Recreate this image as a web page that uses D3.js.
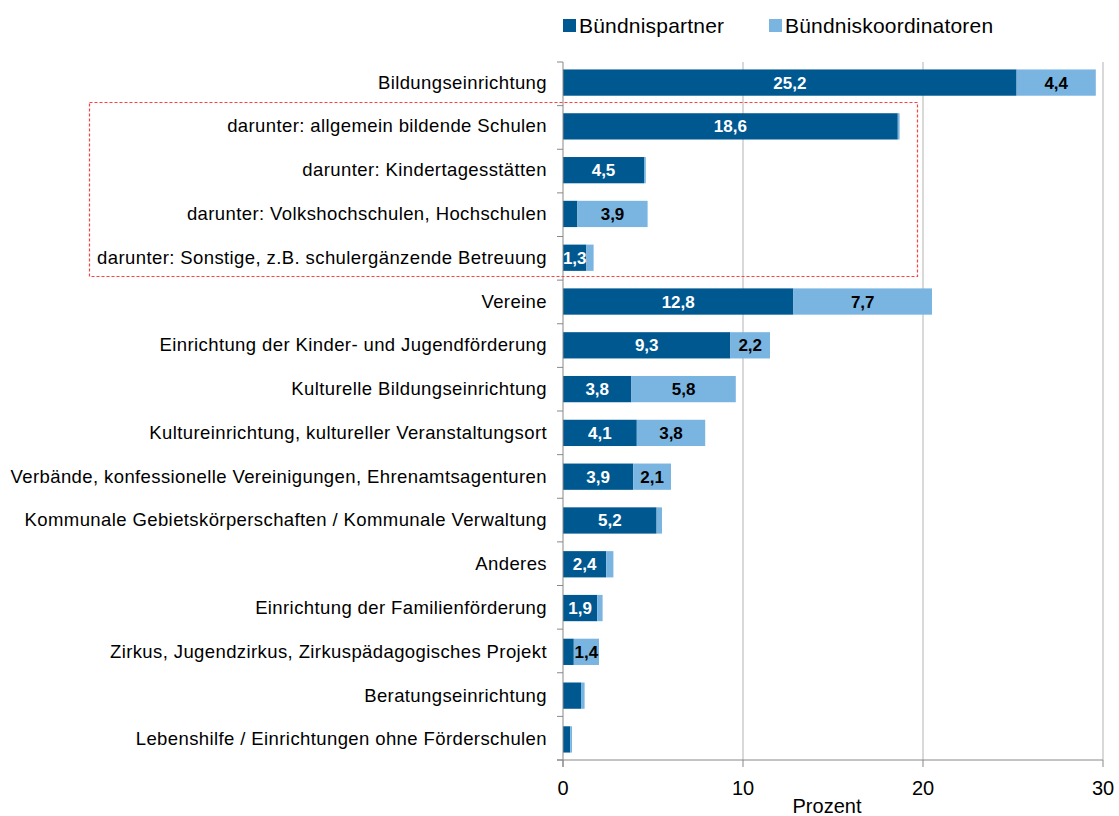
<!DOCTYPE html>
<html><head><meta charset="utf-8">
<script src="https://cdn.jsdelivr.net/npm/d3@7"></script>
<style>body{margin:0;background:#fff;font-family:"Liberation Sans",Arial,sans-serif;}</style>
</head><body><svg id="c" width="1119" height="816"></svg>
<script>
const categories = [
  "Bildungseinrichtung",
  "darunter: allgemein bildende Schulen",
  "darunter: Kindertagesstätten",
  "darunter: Volkshochschulen, Hochschulen",
  "darunter: Sonstige, z.B. schulergänzende Betreuung",
  "Vereine",
  "Einrichtung der Kinder- und Jugendförderung",
  "Kulturelle Bildungseinrichtung",
  "Kultureinrichtung, kultureller Veranstaltungsort",
  "Verbände, konfessionelle Vereinigungen, Ehrenamtsagenturen",
  "Kommunale Gebietskörperschaften / Kommunale Verwaltung",
  "Anderes",
  "Einrichtung der Familienförderung",
  "Zirkus, Jugendzirkus, Zirkuspädagogisches Projekt",
  "Beratungseinrichtung",
  "Lebenshilfe / Einrichtungen ohne Förderschulen"
];
const partner =     [25.2, 18.6, 4.5, 0.8, 1.3, 12.8, 9.3, 3.8, 4.1, 3.9, 5.2, 2.4, 1.9, 0.6, 1.0, 0.4];
const koordinator = [4.4,  0.1,  0.1, 3.9, 0.4, 7.7,  2.2, 5.8, 3.8, 2.1, 0.3, 0.4, 0.3, 1.4, 0.2, 0.1];
const seriesNames = ["Bündnispartner", "Bündniskoordinatoren"];
const xTicks = [0, 10, 20, 30];
const axisTitle = "Prozent";

const colors = ["#005891", "#7ab5e2"];
const svg = d3.select("#c");
const margin = {left: 563, right: 1103, top: 62, bottom: 760};

const x = d3.scaleLinear().domain([0, 30]).range([margin.left, margin.right]);
const y = d3.scaleBand().domain(categories).range([margin.top, margin.bottom]).paddingInner(0.4).paddingOuter(0.17);

// gridlines
svg.append("g").selectAll("line").data(xTicks.filter(d => d > 0)).join("line")
  .attr("x1", d => x(d)).attr("x2", d => x(d))
  .attr("y1", margin.top).attr("y2", margin.bottom)
  .attr("stroke", "#b3b3b3").attr("stroke-width", 1);

const data = categories.map((c, i) => ({cat: c, p: partner[i], k: koordinator[i]}));

// bars
const g = svg.append("g");
g.selectAll("rect.p").data(data).join("rect").attr("class", "p")
  .attr("x", x(0)).attr("y", d => y(d.cat))
  .attr("width", d => x(d.p) - x(0)).attr("height", y.bandwidth())
  .attr("fill", colors[0]);
g.selectAll("rect.k").data(data).join("rect").attr("class", "k")
  .attr("x", d => x(d.p)).attr("y", d => y(d.cat))
  .attr("width", d => x(d.p + d.k) - x(d.p)).attr("height", y.bandwidth())
  .attr("fill", colors[1]);

const fmt = v => v.toFixed(1).replace(".", ",");
g.selectAll("text.pl").data(data.filter(d => d.p >= 1.25)).join("text").attr("class", "pl")
  .attr("x", d => (x(0) + x(d.p)) / 2).attr("y", d => y(d.cat) + y.bandwidth() / 2 + 6)
  .attr("text-anchor", "middle").attr("fill", "#fff").attr("font-weight", "bold").attr("font-size", 17)
  .text(d => fmt(d.p));
g.selectAll("text.kl").data(data.filter(d => d.k >= 1.25)).join("text").attr("class", "kl")
  .attr("x", d => (x(d.p) + x(d.p + d.k)) / 2).attr("y", d => y(d.cat) + y.bandwidth() / 2 + 6)
  .attr("text-anchor", "middle").attr("fill", "#000").attr("font-weight", "bold").attr("font-size", 17)
  .text(d => fmt(d.k));

// y axis
const yAxis = svg.append("g");
yAxis.append("line").attr("x1", x(0)).attr("x2", x(0)).attr("y1", margin.top).attr("y2", margin.bottom + 7)
  .attr("stroke", "#888");
const bounds = d3.range(categories.length + 1).map(i => margin.top + (margin.bottom - margin.top) * i / categories.length);
yAxis.selectAll("line.t").data(bounds).join("line").attr("class", "t")
  .attr("x1", x(0) - 6).attr("x2", x(0)).attr("y1", d => d).attr("y2", d => d).attr("stroke", "#888");
yAxis.selectAll("text").data(categories).join("text")
  .attr("x", 547).attr("y", d => y(d) + y.bandwidth() / 2 + 6)
  .attr("text-anchor", "end").attr("font-size", 18.5).attr("letter-spacing", 0.4).attr("fill", "#000")
  .text(d => d);

// x axis
const xAxis = svg.append("g");
xAxis.append("line").attr("x1", x(0) - 6).attr("x2", x(30)).attr("y1", margin.bottom).attr("y2", margin.bottom).attr("stroke", "#888");
xAxis.selectAll("line.t").data(xTicks).join("line").attr("class", "t")
  .attr("x1", d => x(d)).attr("x2", d => x(d)).attr("y1", margin.bottom).attr("y2", margin.bottom + 7).attr("stroke", "#888");
xAxis.selectAll("text").data(xTicks).join("text")
  .attr("x", d => x(d)).attr("y", 795).attr("text-anchor", "middle").attr("font-size", 20).attr("fill", "#000")
  .text(d => d);
svg.append("text").attr("x", 827).attr("y", 813).attr("text-anchor", "middle").attr("font-size", 20).text(axisTitle);

// dashed highlight box
svg.append("rect").attr("x", 89.5).attr("y", 102.5).attr("width", 828).attr("height", 174)
  .attr("fill", "none").attr("stroke", "#ff4040").attr("stroke-width", 1.2).attr("stroke-dasharray", "3,2");

// legend
const legX = [563, 769];
const leg = svg.append("g");
seriesNames.forEach((n, i) => {
  leg.append("rect").attr("x", legX[i]).attr("y", 19).attr("width", 13).attr("height", 13).attr("fill", colors[i]);
  leg.append("text").attr("x", legX[i] + 16).attr("y", 33).attr("font-size", 21).attr("letter-spacing", 0.2).attr("fill", "#000").text(n);
});
</script></body></html>
